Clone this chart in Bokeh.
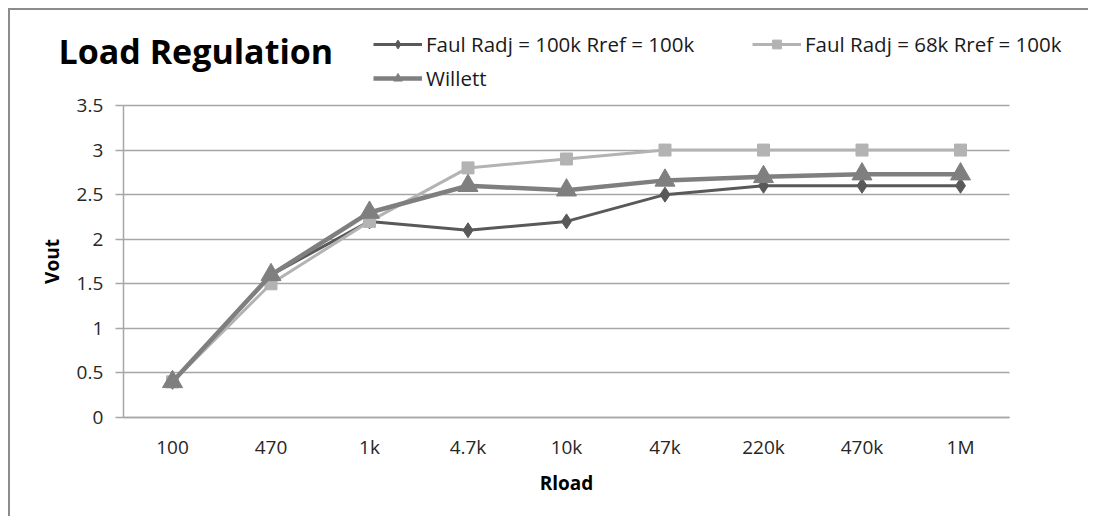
from bokeh.plotting import figure
from bokeh.models import Range1d, Legend, LegendItem, Label, FixedTicker, LinearAxis
from bokeh.embed import file_html
from bokeh.resources import INLINE

rload = ["100", "470", "1k", "4.7k", "10k", "47k", "220k", "470k", "1M"]
faul_100k = [0.4, 1.6, 2.2, 2.1, 2.2, 2.5, 2.6, 2.6, 2.6]
faul_68k = [0.4, 1.5, 2.2, 2.8, 2.9, 3.0, 3.0, 3.0, 3.0]
willett = [0.4, 1.6, 2.3, 2.6, 2.55, 2.66, 2.7, 2.73, 2.73]
y_ticks = [0, 0.5, 1, 1.5, 2, 2.5, 3, 3.5]
y_tick_labels = {0: "0", 0.5: "0.5", 1: "1", 1.5: "1.5", 2: "2", 2.5: "2.5", 3: "3", 3.5: "3.5"}

xs = list(range(len(rload)))
x_labels = {i: name for i, name in enumerate(rload)}

FONT = "Open Sans"
GRID = "#a6a6a6"

# ---- layout (page pixels) ----
W, H = 1080, 508          # figure size
OX, OY = 10, 10           # content origin on the page (8px margin + 2px border)
MB = 2                    # min border: frame covers nearly the whole canvas
PX0, DX = 172.0, 98.5     # page x of first category, pixels per category
PY0, DY = 417.0, 89.143   # page y of value 0, pixels per unit
f_left, f_right = OX + MB, OX + W - MB
f_top, f_bottom = OY + MB, OY + H - MB
x_start, x_end = (f_left - PX0) / DX, (f_right - PX0) / DX
y_start, y_end = (PY0 - f_bottom) / DY, (PY0 - f_top) / DY

p = figure(width=W, height=H,
           x_range=Range1d(x_start, x_end), y_range=Range1d(y_start, y_end),
           output_backend="svg", toolbar_location=None, title=None,
           x_axis_location=None, y_axis_location=None,
           min_border_left=MB, min_border_right=MB, min_border_top=MB, min_border_bottom=MB)
p.styles = {"margin-left": "8px", "margin-top": "8px",
            "border-left": "2px solid #8c8c8c", "border-top": "2px solid #8c8c8c"}
p.outline_line_color = None

n = len(rload)
xbounds = (-0.5, n - 0.5)

yaxis = LinearAxis(fixed_location=xbounds[0], bounds=(y_ticks[0], y_ticks[-1]),
                   ticker=FixedTicker(ticks=y_ticks))
yaxis.major_label_overrides = y_tick_labels
p.add_layout(yaxis, "left")

xaxis = LinearAxis(fixed_location=0, bounds=xbounds, ticker=FixedTicker(ticks=xs))
xaxis.major_label_overrides = x_labels
p.add_layout(xaxis, "below")

# grid
p.xgrid.grid_line_color = None
p.ygrid.grid_line_color = GRID
p.ygrid.grid_line_width = 1.5
p.ygrid.ticker = FixedTicker(ticks=y_ticks)
p.ygrid.cross_bounds = xbounds

for ax in (xaxis, yaxis):
    ax.axis_line_color = GRID
    ax.axis_line_width = 1.5
    ax.major_label_text_font = FONT
    ax.major_label_text_font_size = "19px"
    ax.major_label_text_color = "#262626"
    ax.axis_label_text_font = FONT
    ax.axis_label_text_font_size = "19px"
    ax.axis_label_text_font_style = "bold"
    ax.axis_label_text_color = "#000000"
    ax.minor_tick_line_color = None

yaxis.major_tick_line_color = GRID
yaxis.major_tick_line_width = 1.5
yaxis.major_tick_out = 8
yaxis.major_tick_in = 0
yaxis.major_label_standoff = 12
yaxis.axis_label = "Vout"
yaxis.axis_label_standoff = 9

xaxis.major_tick_line_color = None
xaxis.major_tick_out = 0
xaxis.major_tick_in = 0
xaxis.major_label_standoff = 16
xaxis.axis_label = "Rload"
xaxis.axis_label_standoff = 7

# series
l1 = p.line(xs, faul_100k, line_color="#595959", line_width=3)
m1 = p.scatter(xs, faul_100k, marker="diamond", size=15, fill_color="#595959", line_color="#595959")
l2 = p.line(xs, faul_68k, line_color="#b3b3b3", line_width=3)
m2 = p.scatter(xs, faul_68k, marker="square", size=12, fill_color="#b3b3b3", line_color="#b3b3b3")
l3 = p.line(xs, willett, line_color="#7f7f7f", line_width=4.5)
m3 = p.scatter(xs, willett, marker="triangle", size=20, fill_color="#7f7f7f", line_color="#7f7f7f")


def make_legend(label, renderers, page_x, page_bottom):
    lg = Legend(items=[LegendItem(label=label, renderers=renderers)],
                location=(page_x - f_left, f_bottom - page_bottom),
                padding=0, margin=0, border_line_color=None, background_fill_alpha=0,
                glyph_width=49, glyph_height=22, label_standoff=4, label_height=22,
                label_text_font=FONT, label_text_font_size="20.5px", label_text_color="#1a1a1a")
    p.add_layout(lg, "center")


make_legend("Faul Radj = 100k Rref = 100k", [l1, m1], 373, 58)
make_legend("Faul Radj = 68k Rref = 100k", [l2, m2], 752, 58)
make_legend("Willett", [l3, m3], 373, 92)

title = Label(x=58 - f_left, y=f_bottom - 50, x_units="screen", y_units="screen",
              text="Load Regulation", text_font=FONT, text_font_size="34px",
              text_font_style="bold", text_color="#000000",
              text_baseline="middle", text_align="left")
p.add_layout(title)

open("out.html", "w").write(file_html(p, INLINE))
